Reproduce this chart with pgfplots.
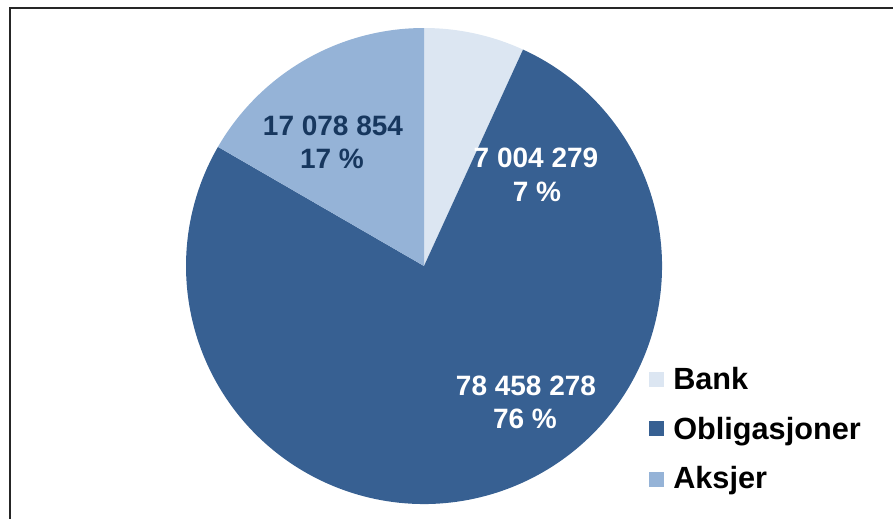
\documentclass[border=0pt]{standalone}
\usepackage{pgfplots}
\pgfplotsset{compat=1.18}
\usepackage{pgfplotstable}
\usepackage{fontspec}
\setmainfont{Liberation Sans}

\definecolor{bankc}{HTML}{DCE6F2}
\definecolor{obligc}{HTML}{376092}
\definecolor{aksjc}{HTML}{95B3D7}
\definecolor{darktxt}{HTML}{17375E}

% values per slice
\pgfplotstableread{
name value
Bank 7004279
Obligasjoner 78458278
Aksjer 17078854
}\pietable

\pgfplotstablegetelem{0}{value}\of\pietable \let\va\pgfplotsretval
\pgfplotstablegetelem{1}{value}\of\pietable \let\vb\pgfplotsretval
\pgfplotstablegetelem{2}{value}\of\pietable \let\vc\pgfplotsretval
\edef\tot{\fpeval{\va+\vb+\vc}}
% start at 12 o'clock, clockwise
\edef\aA{90}
\edef\aB{\fpeval{90-360*\va/\tot}}
\edef\aC{\fpeval{\aB-360*\vb/\tot}}
\edef\aD{\fpeval{\aC-360*\vc/\tot}}

\newcommand\slice[3]{%
  \fill[#1] (axis cs:424,266) -- (axis cs:{424+238*cos(#2)},{266-238*sin(#2)})
    arc[start angle=#2, end angle=#3, radius=178.5pt] -- cycle;}

\begin{document}
\begin{tikzpicture}
\useasboundingbox (0,0) rectangle (669.75pt,388.5pt);
\clip (0,0) rectangle (669.75pt,388.5pt);
\begin{axis}[
    at={(0,0)}, anchor=south west,
    x=0.75pt, y=0.75pt,
    xmin=0, xmax=893,
    ymin=0, ymax=518,
    y dir=reverse,
    hide axis,
    clip=false,
  ]
  \draw[line width=1.5pt, black!85] (axis cs:9.5,7.5) rectangle (axis cs:905,530);

  \slice{bankc}{\aA}{\aB}
  \slice{obligc}{\aB}{\aC}
  \slice{aksjc}{\aC}{\aD}

  % data labels
  \begin{scope}[font=\fontsize{21}{25}\selectfont\bfseries]
    \node[anchor=base, text=darktxt, inner sep=0pt] at (axis cs:333,135) {17 078 854};
    \node[anchor=base, text=darktxt, inner sep=0pt] at (axis cs:332,168) {17 \%};
    \node[anchor=base, text=white, inner sep=0pt] at (axis cs:536,167) {7 004 279};
    \node[anchor=base, text=white, inner sep=0pt] at (axis cs:537,201) {7 \%};
    \node[anchor=base, text=white, inner sep=0pt] at (axis cs:526,395) {78 458 278};
    \node[anchor=base, text=white, inner sep=0pt] at (axis cs:525,428) {76 \%};
  \end{scope}

  % legend
  \fill[bankc] (axis cs:649,372) rectangle (axis cs:664,387);
  \fill[obligc] (axis cs:649,421) rectangle (axis cs:664,436);
  \fill[aksjc] (axis cs:649,472) rectangle (axis cs:664,487);
  \begin{scope}[font=\fontsize{23}{27}\selectfont\bfseries]
    \node[anchor=base west, inner sep=0pt] at (axis cs:673,389) {Bank};
    \node[anchor=base west, inner sep=0pt] at (axis cs:673,439) {Obligasjoner};
    \node[anchor=base west, inner sep=0pt] at (axis cs:673,488) {Aksjer};
  \end{scope}
\end{axis}
\end{tikzpicture}
\end{document}
